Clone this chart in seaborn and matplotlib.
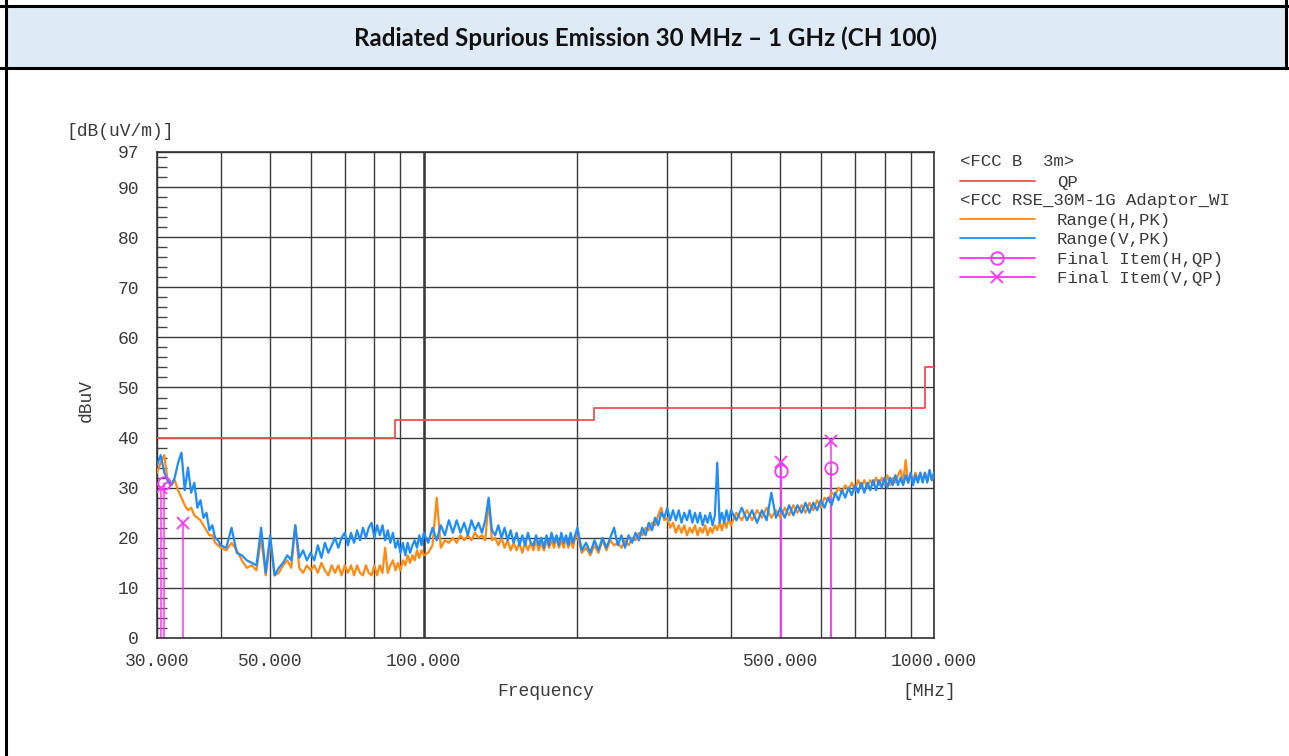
import numpy as np
import matplotlib.pyplot as plt
import seaborn as sns
from matplotlib.lines import Line2D
from matplotlib.patches import Rectangle
from matplotlib.ticker import FixedLocator, NullFormatter

sns.set_theme(style="white")
plt.rcParams['font.family'] = ['Liberation Mono', 'DejaVu Sans']

W, H = 1289, 756
C_LIMIT = "#F05050"
C_H = "#FF8A12"
C_V = "#1C8CFF"
C_MAG = "#FF33FF"
C_TXT = "#3a3a3a"
C_GRID = "#3a3a3a"

# scan frequencies (MHz)
freq = [30.0, 30.5, 31.0, 31.5, 32.0, 32.5, 33.0, 33.5, 34.0, 34.5, 35.0,
        35.5, 36.0, 36.5, 37.0, 37.5, 38.0, 38.5, 39.0, 39.5, 40.0,
        41, 42, 43, 44, 45, 46, 47, 48, 49, 50,
        51, 52, 53, 54, 55, 56, 57, 58, 59, 60,
        61, 62, 63, 64, 65, 66, 67, 68, 69, 70,
        71, 72, 73, 74, 75, 76, 77, 78, 79, 80,
        81, 82, 83, 84, 85, 86, 87, 88, 89, 90,
        91, 92, 93, 94, 95, 96, 97, 98, 99, 100,
        102, 104, 106, 108, 110, 112, 114, 116, 118, 120,
        122, 124, 126, 128, 130, 132, 134, 136, 138, 140,
        142, 144, 146, 148, 150, 152, 154, 156, 158, 160,
        162, 164, 166, 168, 170, 172, 174, 176, 178, 180,
        182, 184, 186, 188, 190, 192, 194, 196, 198, 200,
        204, 208, 212, 216, 220, 224, 228, 232, 236, 240,
        244, 248, 252, 256, 260, 264, 268, 272, 276, 280,
        284, 288, 292, 296, 300, 304, 308, 312, 316, 320,
        324, 328, 332, 336, 340, 344, 348, 352, 356, 360,
        364, 368, 372, 376, 380, 384, 388, 392, 396, 400,
        410, 420, 430, 440, 450, 460, 470, 480, 490, 500,
        510, 520, 530, 540, 550, 560, 570, 580, 590, 600,
        610, 620, 630, 640, 650, 660, 670, 680, 690, 700,
        710, 720, 730, 740, 750, 760, 770, 780, 790, 800,
        810, 820, 830, 840, 850, 860, 870, 880, 890, 900,
        910, 920, 930, 940, 950, 960, 970, 980, 990, 1000]

# Range(H,PK) peak trace, dBuV/m
level_h = [33.0, 35.0, 36.5, 31.0, 30.5, 31.5, 29.5, 28.0, 26.5, 25.5, 26.0,
           24.5, 24.0, 23.5, 22.5, 21.5, 20.5, 20.5, 19.0, 18.5, 18.0,
           17.5, 19.0, 17.5, 15.5, 14.0, 14.5, 13.5, 20.0, 12.5, 19.5,
           12.5, 13.0, 14.5, 15.5, 14.0, 22.5, 14.0, 13.0, 14.5, 13.5,
           14.5, 13.0, 15.0, 13.5, 12.5, 14.5, 13.0, 14.5, 12.5, 14.5,
           13.0, 14.5, 12.5, 14.5, 13.0, 12.5, 14.5, 13.0, 12.5, 14.5,
           12.5, 14.5, 13.0, 18.0, 13.0, 14.5, 15.5, 13.5, 15.0, 13.5,
           15.5, 14.5, 16.5, 15.0, 16.5, 15.5, 17.5, 16.0, 17.5, 16.5,
           17.0, 18.5, 28.0, 18.0, 19.5, 19.0, 20.0, 19.0, 20.5, 19.5,
           20.5, 19.5, 21.0, 20.0, 20.5, 19.5, 27.5, 19.5, 20.0, 18.5,
           20.0, 18.0, 19.5, 17.5, 19.0, 17.5, 19.0, 17.0, 19.0, 17.5,
           19.0, 17.5, 19.5, 17.5, 19.0, 17.5, 19.5, 18.0, 19.5, 18.0,
           20.0, 18.0, 19.5, 18.0, 20.0, 18.0, 19.5, 18.0, 20.0, 20.5,
           17.0, 18.0, 16.5, 18.5, 17.0, 19.5, 17.5, 19.5, 18.5, 19.0,
           18.0, 19.5, 18.5, 20.0, 19.5, 21.0, 20.5, 22.0, 21.5, 23.0,
           22.5, 24.5, 26.0, 23.5, 24.0, 22.0, 23.0, 21.0, 22.5, 21.0,
           22.5, 20.5, 22.0, 21.0, 22.5, 20.5, 22.0, 21.0, 22.5, 20.5,
           22.0, 21.0, 22.5, 21.5, 23.0, 21.5, 23.5, 22.0, 24.0, 22.5,
           25.0, 23.5, 25.5, 23.5, 25.5, 24.0, 26.0, 24.0, 25.5, 24.0,
           26.0, 24.5, 26.5, 25.0, 26.5, 25.0, 27.0, 25.5, 27.5, 26.0,
           28.0, 27.5, 29.0, 28.5, 30.0, 29.0, 30.5, 29.5, 31.0, 29.5,
           31.5, 30.0, 31.5, 30.0, 31.5, 30.5, 32.0, 30.5, 32.0, 30.5,
           32.5, 30.5, 32.0, 31.0, 32.5, 33.5, 31.0, 35.5, 31.0, 32.5,
           31.5, 33.0, 31.5, 33.0, 31.5, 33.0, 31.5, 33.5, 31.5, 32.5]

# Range(V,PK) peak trace, dBuV/m
level_v = [34.5, 36.5, 33.0, 31.5, 30.5, 32.0, 35.0, 37.0, 29.5, 34.0, 29.0,
           31.0, 26.0, 27.5, 24.0, 25.0, 21.5, 22.5, 20.0, 19.5, 18.5,
           18.0, 22.0, 17.0, 16.5, 15.5, 15.0, 14.5, 22.0, 13.0, 20.5,
           12.5, 14.0, 15.0, 16.5, 15.5, 22.5, 16.0, 17.5, 15.5, 17.0,
           15.5, 18.5, 16.0, 19.0, 17.0, 18.5, 20.0, 18.0, 20.0, 21.0,
           18.5, 21.0, 19.0, 21.5, 19.5, 22.0, 20.0, 22.0, 23.0, 20.0,
           22.5, 20.5, 22.5, 19.5, 21.5, 19.0, 21.0, 18.0, 19.5, 17.0,
           19.0, 16.5, 19.0, 17.0, 18.5, 19.5, 18.0, 20.5, 18.5, 21.0,
           19.0, 22.0, 19.5, 22.5, 20.5, 23.5, 21.0, 23.5, 21.0, 23.0,
           20.5, 23.5, 21.5, 23.0, 21.0, 23.5, 28.0, 21.5, 20.5, 22.5,
           20.0, 22.0, 19.5, 21.5, 19.0, 21.0, 18.5, 20.5, 18.5, 21.0,
           19.0, 18.5, 20.5, 18.5, 20.0, 18.0, 20.5, 18.5, 21.0, 19.0,
           20.5, 18.5, 21.0, 19.0, 20.5, 18.5, 21.0, 19.0, 20.5, 22.0,
           17.5, 19.0, 17.0, 19.5, 17.5, 20.0, 18.0, 20.0, 22.0, 18.5,
           20.5, 18.0, 20.5, 19.0, 21.0, 19.5, 22.0, 20.5, 23.0, 21.5,
           24.0, 22.5, 25.0, 24.0, 26.0, 23.5, 25.5, 23.5, 25.5, 23.0,
           25.0, 23.5, 25.5, 23.0, 25.0, 23.0, 25.0, 22.5, 24.5, 23.0,
           25.0, 22.5, 24.5, 35.0, 23.0, 25.0, 23.0, 25.5, 23.5, 25.5,
           23.5, 26.0, 23.5, 25.5, 23.0, 25.5, 23.5, 29.0, 24.0, 26.0,
           24.0, 26.5, 24.5, 26.5, 25.0, 27.0, 25.0, 27.0, 25.5, 27.5,
           26.0, 28.0, 26.5, 29.0, 27.5, 29.5, 28.0, 30.0, 28.5, 30.5,
           29.0, 31.0, 29.0, 31.0, 29.5, 31.5, 29.5, 31.5, 30.0, 32.0,
           30.0, 32.0, 30.5, 32.5, 30.5, 32.0, 30.5, 32.5, 31.0, 33.0,
           30.5, 32.5, 31.0, 33.0, 31.0, 33.0, 31.0, 33.5, 31.5, 33.0]

# FCC class B 3 m quasi-peak limit
limit_f = [30, 88, 88, 216, 216, 960, 960, 1000]
limit_db = [40, 40, 43.5, 43.5, 46, 46, 54, 54]

# final QP measurements
final_h_f = [30.95, 501.9, 627.7]
final_h_db = [30.9, 33.4, 33.9]
final_v_f = [30.6, 33.7, 501.9, 627.7]
final_v_db = [30.0, 23.0, 35.1, 39.3]

fig = plt.figure(figsize=(W / 100, H / 100), dpi=100)
fig.patch.set_facecolor("white")


def fx(x):
    return x / W


def fy(y):
    return 1 - y / H


# ---- page frame and title band ----
fig.add_artist(Rectangle((fx(7), fy(67)), fx(1279), 60 / H, transform=fig.transFigure,
                         facecolor="#DEEAF6", edgecolor="none"))
for xs, ys in [([0, W], [5.5, 5.5]), ([0, W], [67.5, 67.5]),
               ([6, 6], [0, H]), ([1286, 1286], [0, 67.5])]:
    fig.add_artist(Line2D([fx(v) for v in xs], [fy(v) for v in ys],
                          transform=fig.transFigure, color="black", lw=2.2))
fig.text(fx(646), fy(38), "Radiated Spurious Emission 30 MHz \u2013 1 GHz (CH 100)",
         ha="center", va="center", fontsize=17.4, fontweight="bold",
         family=["Lato", "DejaVu Sans"], color="#111111")

# ---- chart ----
ax = fig.add_axes([fx(157), fy(638), (934 - 157) / W, (638 - 152) / H])
ax.set_xscale("log")

ax.vlines(final_h_f, 0, final_h_db, color=C_MAG, lw=1.3, alpha=0.85, zorder=2)
ax.vlines(final_v_f, 0, final_v_db, color=C_MAG, lw=1.3, alpha=0.85, zorder=2)

sns.lineplot(x=limit_f, y=limit_db, sort=False, estimator=None, color=C_LIMIT, lw=1.3, ax=ax, zorder=3)
sns.lineplot(x=freq, y=level_h, sort=False, estimator=None, color=C_H, lw=1.6, ax=ax, zorder=3)
sns.lineplot(x=freq, y=level_v, sort=False, estimator=None, color=C_V, lw=1.6, ax=ax, zorder=4)

ax.plot(final_h_f, final_h_db, ls="none", marker="o", ms=9, mfc="none", mec=C_MAG, mew=1.3, zorder=5)
ax.plot(final_v_f, final_v_db, ls="none", marker="x", ms=9, mec=C_MAG, mew=1.3, zorder=5)

ax.set_xlim(30, 1000)
ax.set_ylim(0, 97)

ax.xaxis.set_major_locator(FixedLocator([30, 50, 100, 500, 1000]))
ax.xaxis.set_minor_locator(FixedLocator([40, 60, 70, 80, 90, 200, 300, 400, 600, 700, 800, 900]))
ax.xaxis.set_minor_formatter(NullFormatter())
ax.set_xticklabels(["30.000", "50.000", "100.000", "500.000", "1000.000"])
ax.set_yticks([0, 10, 20, 30, 40, 50, 60, 70, 80, 90, 97])
ax.set_yticks([v for v in range(2, 97, 2) if v % 10], minor=True)

ax.grid(True, which="both", axis="x", color=C_GRID, lw=1.0)
ax.grid(True, which="major", axis="y", color=C_GRID, lw=1.0)
ax.axvline(100, color=C_GRID, lw=1.8, zorder=0.5)

ax.tick_params(axis="x", which="both", length=0, pad=11, labelsize=13, labelcolor=C_TXT)
ax.tick_params(axis="y", which="major", length=0, pad=13, labelsize=13, labelcolor=C_TXT)
ax.tick_params(axis="y", which="minor", direction="in", length=7, width=1.0, color="#444444", left=True)
for s in ax.spines.values():
    s.set_color("#333333")
    s.set_linewidth(1.2)
ax.set_xlabel("")
ax.set_ylabel("")

fig.text(fx(66), fy(131), "[dB(uV/m)]", ha="left", va="center", fontsize=13, color=C_TXT)
fig.text(fx(86), fy(400), "dBuV", ha="center", va="center", rotation=90, fontsize=13, color=C_TXT)
fig.text(fx(545.5), fy(692), "Frequency", ha="center", va="center", fontsize=13, color=C_TXT)
fig.text(fx(929), fy(692), "[MHz]", ha="center", va="center", fontsize=13, color=C_TXT)

# ---- legend ----
LX0, LX1, LXT = 960, 1035, 1057
leg_fs = 12.5
fig.text(fx(LX0), fy(161), "<FCC B  3m>", ha="left", va="center", fontsize=leg_fs, color=C_TXT)
fig.text(fx(LX0), fy(200), "<FCC RSE_30M-1G Adaptor_WI", ha="left", va="center", fontsize=leg_fs, color=C_TXT)
entries = [(181, C_LIMIT, None, "QP"),
           (219, C_H, None, "Range(H,PK)"),
           (238, C_V, None, "Range(V,PK)"),
           (258, C_MAG, "o", "Final Item(H,QP)"),
           (277, C_MAG, "x", "Final Item(V,QP)")]
for ly, col, mk, lab in entries:
    fig.add_artist(Line2D([fx(LX0), fx(LX1)], [fy(ly), fy(ly)], transform=fig.transFigure,
                          color=col, lw=1.3))
    if mk:
        fig.add_artist(Line2D([fx(997)], [fy(ly)], transform=fig.transFigure, ls="none",
                              marker=mk, ms=9, mfc="none", mec=col, mew=1.3))
    fig.text(fx(LXT), fy(ly + 1.5), lab, ha="left", va="center", fontsize=leg_fs, color=C_TXT)

fig.savefig("out.png", dpi=100)
